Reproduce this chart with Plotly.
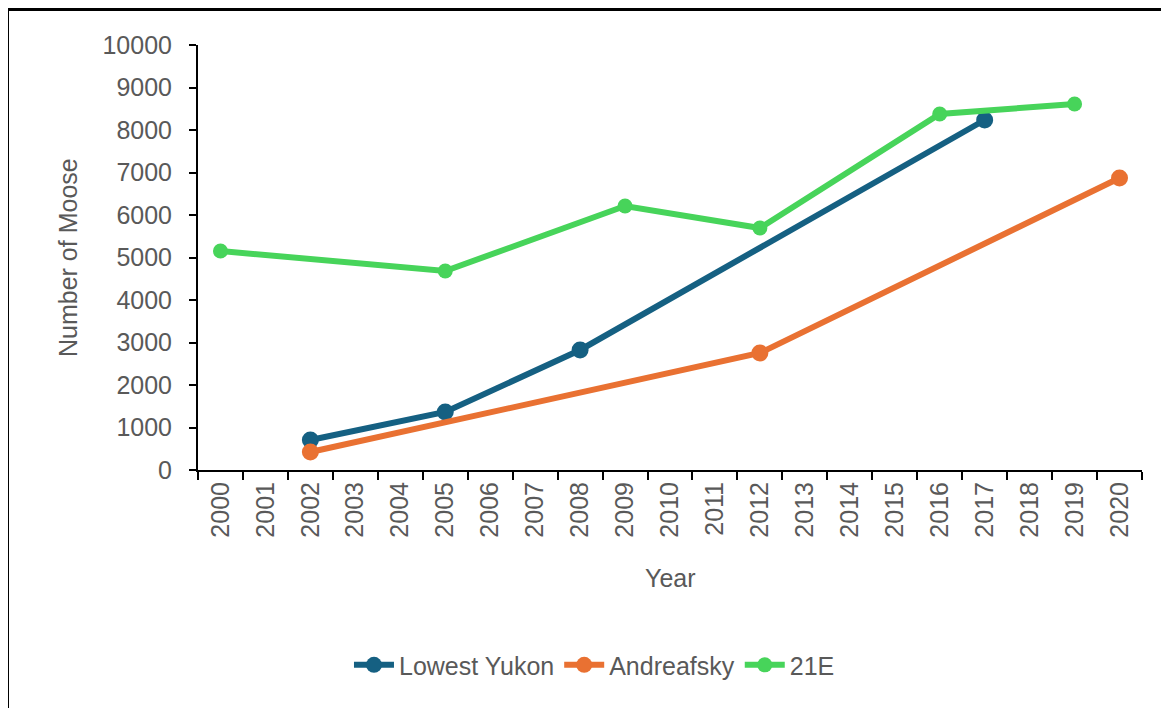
import plotly.graph_objects as go

years = [str(y) for y in range(2000, 2021)]

yukon_years = ["2002", "2005", "2008", "2017"]
yukon_moose = [706, 1365, 2824, 8235]

andreafsky_years = ["2002", "2012", "2020"]
andreafsky_moose = [424, 2753, 6871]

e21_years = ["2000", "2005", "2009", "2012", "2016", "2019"]
e21_moose = [5153, 4682, 6212, 5694, 8376, 8612]

grey = "#595959"
font = "Liberation Sans, Arial, sans-serif"

fig = go.Figure()
fig.add_trace(go.Scatter(x=yukon_years, y=yukon_moose, name="Lowest Yukon", mode="lines+markers",
                         line=dict(color="#156082", width=6), marker=dict(size=17)))
fig.add_trace(go.Scatter(x=andreafsky_years, y=andreafsky_moose, name="Andreafsky", mode="lines+markers",
                         line=dict(color="#E97132", width=6), marker=dict(size=17)))
fig.add_trace(go.Scatter(x=e21_years, y=e21_moose, name="21E", mode="lines+markers",
                         line=dict(color="#47D45A", width=6), marker=dict(size=15)))

# page has an 8px body margin, so the figure is shifted; compensate
fig.update_layout(
    width=1161, height=700,
    margin=dict(l=190, r=27, t=37, b=238),
    plot_bgcolor="white", paper_bgcolor="white",
    font=dict(family=font, size=25, color=grey),
    showlegend=True,
    legend=dict(orientation="h", x=0.42, xanchor="center", y=-0.459, yanchor="middle",
                font=dict(size=25, color=grey), itemwidth=40),
    shapes=[dict(type="rect", xref="paper", yref="paper",
                 x0=-0.2018, x1=1.04, y0=-0.6, y1=1.0835,
                 line=dict(color="black", width=3))],
    annotations=[
        dict(text="Year", xref="paper", yref="paper", x=0.5, y=(470 - 578) / 425,
             showarrow=False, font=dict(size=25, color=grey), yanchor="middle"),
        dict(text="Number of Moose", xref="paper", yref="paper", x=(68 - 198) / 944, y=(470 - 258) / 425,
             showarrow=False, textangle=-90, font=dict(size=25, color=grey), xanchor="center", yanchor="middle"),
    ],
)

fig.update_xaxes(type="category", categoryorder="array", categoryarray=years,
                 range=[-0.5, 20.5], tickmode="array", tickvals=years, ticktext=years,
                 tickangle=-90, tickson="boundaries", ticks="outside", ticklen=8, tickwidth=2,
                 tickcolor="black", showline=True, linecolor="black", linewidth=2,
                 showgrid=False, tickfont=dict(size=25, color=grey))
fig.update_yaxes(range=[0, 10000], dtick=1000, tickformat="d", ticks="outside", ticklen=7, tickwidth=2,
                 tickcolor="black", showline=True, linecolor="black", linewidth=2,
                 ticklabelstandoff=12,
                 showgrid=False, zeroline=False, tickfont=dict(size=25, color=grey))

fig.write_html("out.html")
